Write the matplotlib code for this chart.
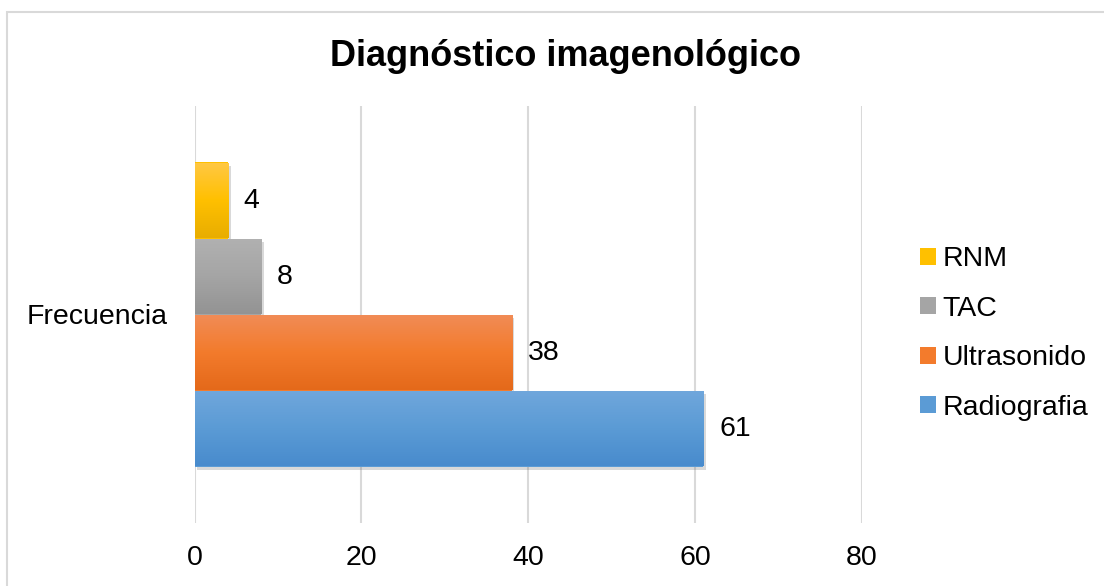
import numpy as np
import matplotlib.pyplot as plt
from matplotlib.colors import LinearSegmentedColormap
from matplotlib.patches import Patch, Rectangle
import matplotlib.patheffects as pe

plt.rcParams['font.family'] = ['Liberation Sans', 'DejaVu Sans']

# Data
category = "Frecuencia"
series = ["Radiografia", "Ultrasonido", "TAC", "RNM"]
values = [61, 38, 8, 4]
x_ticks = [0, 20, 40, 60, 80]

# gradient colours (top, middle, bottom) per series
grads = {
    "Radiografia": ["#70A7DC", "#5B9BD5", "#488BCD"],
    "Ultrasonido": ["#F18C57", "#F37B2C", "#E4691A"],
    "TAC": ["#B1B1B1", "#A5A5A5", "#939393"],
    "RNM": ["#FFC845", "#FFC000", "#E8AD00"],
}

fig = plt.figure(figsize=(11.04, 5.86), dpi=100)
ax = fig.add_axes([194.5/1104, 1 - 523/586, 667.5/1104, 417/586])

group = 304/417
h = group / len(series)
offsets = (np.arange(len(series)) - (len(series) - 1) / 2) * h

grad = np.linspace(0, 1, 256).reshape(-1, 1)
for name, val, off in zip(series, values, offsets):
    top, mid, bot = grads[name]
    bar = ax.barh(off, val, height=h, color=mid, zorder=2,
                  path_effects=[pe.SimplePatchShadow(offset=(2, -2.5), alpha=0.22, shadow_rgbFace='#555555'),
                                pe.Normal()])[0]
    cmap = LinearSegmentedColormap.from_list(name, [bot, mid, top])
    im = ax.imshow(grad, cmap=cmap, origin='lower', aspect='auto', zorder=3,
                   extent=[0, val, off - h/2, off + h/2])
    im.set_clip_path(bar)
    ax.text(val + 1.9, off, str(val), va='center', ha='left', fontsize=20.5, color='#000000', zorder=4)

ax.set_xlim(0, 80)
ax.set_ylim(-0.5, 0.5)
ax.set_xticks(x_ticks)
ax.set_yticks([0])
ax.set_yticklabels([category])
ax.tick_params(axis='x', length=0, pad=16, labelsize=20.5)
ax.tick_params(axis='y', length=0, pad=19, labelsize=20.5)
for s in ax.spines.values():
    s.set_visible(False)
ax.set_axisbelow(True)
ax.grid(axis='x', color='#D9D9D9', linewidth=1.5, zorder=0)

fig.text(566/1104, 1 - 57/586, "Diagnóstico imagenológico", ha='center', va='center',
         fontsize=26, fontweight='bold')

handles = [Patch(facecolor=grads[n][1], edgecolor='none') for n in series[::-1]]
fig.legend(handles, series[::-1], loc='center left', bbox_to_anchor=(920/1104, 1 - 333.5/586),
           frameon=False, fontsize=20.5, handlelength=0.55, handleheight=0.55, handletextpad=0.25,
           labelspacing=0.82, borderpad=0, borderaxespad=0)

fig.patches.append(Rectangle((6.5/1104, -0.05), 1.1, 1.05 - 12/586, transform=fig.transFigure,
                             facecolor='none', edgecolor='#D9D9D9', linewidth=1.5, zorder=0))

fig.savefig("out.png", dpi=100)
